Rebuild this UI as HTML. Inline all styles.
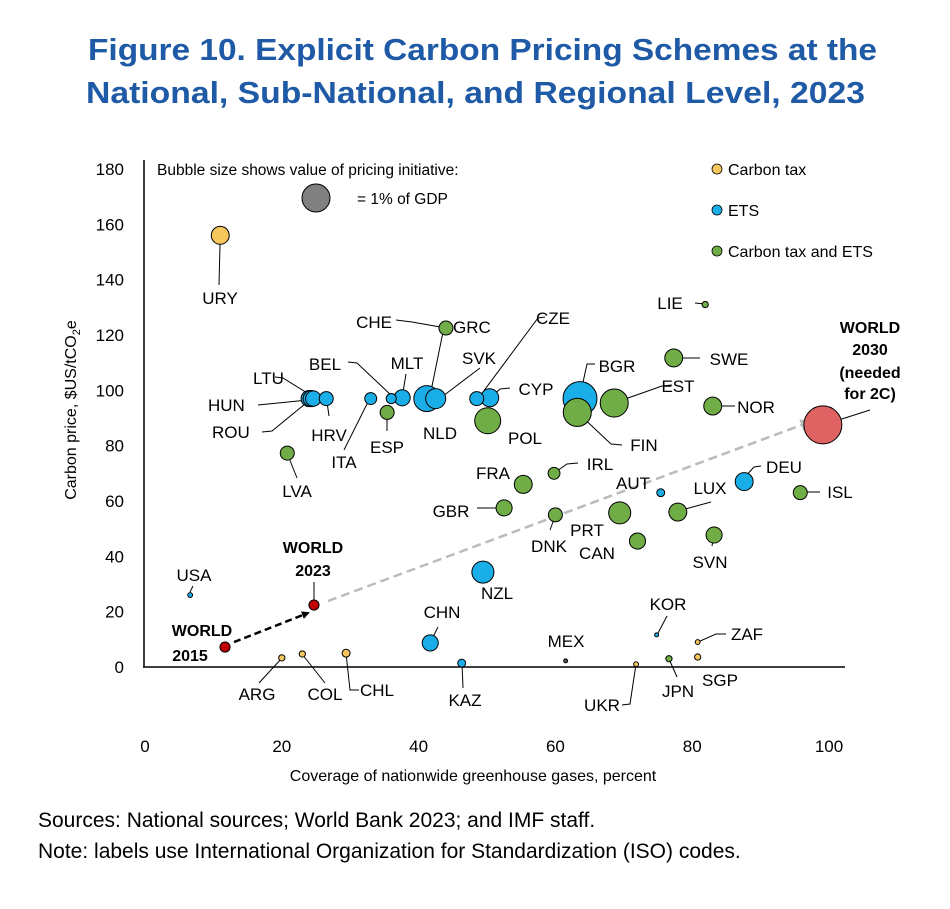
<!DOCTYPE html>
<html><head><meta charset="utf-8"><style>
body{margin:0;background:#fff;width:950px;height:904px;overflow:hidden;font-family:"Liberation Sans",sans-serif}
</style></head><body>
<svg width="950" height="904" font-family="Liberation Sans, sans-serif">
<rect x="0" y="0" width="950" height="904" fill="#fff"/>
<text x="88" y="60" textLength="789" lengthAdjust="spacingAndGlyphs" font-size="31" font-weight="bold" fill="#1f5aa6">Figure 10. Explicit Carbon Pricing Schemes at the</text>
<text x="86" y="103" textLength="779" lengthAdjust="spacingAndGlyphs" font-size="31" font-weight="bold" fill="#1f5aa6">National, Sub-National, and Regional Level, 2023</text>
<g id="axes"></g>
<g id="lines"></g>
<g id="marks"></g>
<g id="labels"></g>
<text transform="translate(76,410) rotate(-90)" text-anchor="middle" font-size="16">Carbon price, $US/tCO<tspan font-size="11" dy="4">2</tspan><tspan dy="-4">e</tspan></text>
<text x="473" y="781" text-anchor="middle" font-size="16">Coverage of nationwide greenhouse gases, percent</text>
<text x="157" y="175" font-size="15.5">Bubble size shows value of pricing initiative:</text>
<circle cx="316" cy="198" r="14" fill="#808080" stroke="#000" stroke-width="1"/>
<text x="357" y="204" font-size="15.5">= 1% of GDP</text>
<g>
<circle cx="717" cy="169" r="5" fill="#f6c75c" stroke="#000" stroke-width="0.8"/>
<text x="728" y="175" font-size="16">Carbon tax</text>
<circle cx="717" cy="210" r="5" fill="#1aaee8" stroke="#000" stroke-width="0.8"/>
<text x="728" y="216" font-size="16">ETS</text>
<circle cx="717" cy="251" r="5" fill="#70ad47" stroke="#000" stroke-width="0.8"/>
<text x="728" y="257" font-size="16">Carbon tax and ETS</text>
</g>
<text x="38" y="827" font-size="21">Sources: National sources; World Bank 2023; and IMF staff.</text>
<text x="38" y="858" font-size="21">Note: labels use International Organization for Standardization (ISO) codes.</text>
</svg>
<script>
const codes=["URY","CHE","LTU","HUN","ROU","HRV","ITA","BEL","MLT","ESP","NLD","SVK","CZE","CYP","POL","BGR","FIN","EST","LIE","SWE","NOR","W2030","FRA","IRL","AUT","DEU","ISL","GBR","DNK","PRT","LUX","CAN","SVN","LVA","NZL","USA","W2023","W2015","CHN","KAZ","ARG","COL","CHL","MEX","UKR","JPN","SGP","ZAF","KOR"];
const coverage=[11,44,24,24.3,24.6,26.5,33,36,37.6,35.4,41.2,42.5,48.5,50.4,50.1,63.6,63.2,68.6,81.9,77.3,83,99.1,55.3,59.8,75.4,87.6,95.8,52.5,60,69.4,77.9,72,83.2,20.8,49.4,6.6,24.7,11.7,41.7,46.3,20,23,29.4,61.5,71.8,76.6,80.8,80.8,74.8];
const price=[156,122.5,97,97,97,97,97,97,97.3,92,97,97,97,97.3,89,97,92,95.4,131,111.7,94.3,87.5,66,70,63,67,63,57.5,55,55.7,56,45.5,47.7,77.3,34.3,26,22.4,7.2,8.7,1.4,3.3,4.7,5,2.2,1,3,3.6,9,11.6];
const gdpValue=[0.41,0.25,0.33,0.33,0.3,0.25,0.18,0.13,0.33,0.25,0.86,0.51,0.25,0.41,0.86,1.47,1.0,1.0,0.05,0.41,0.41,1.84,0.41,0.18,0.08,0.41,0.25,0.33,0.25,0.62,0.41,0.33,0.33,0.25,0.62,0.03,0.13,0.13,0.33,0.08,0.05,0.05,0.08,0.02,0.03,0.05,0.05,0.03,0.02];
const scheme=["T","G","E","E","E","E","E","E","E","G","E","E","E","E","G","E","G","G","G","G","G","W","G","G","E","E","G","G","G","G","G","G","G","G","E","E","D","D","E","E","T","T","T","K","T","G","T","T","E"];
const xTicks=[0,20,40,60,80,100];
const yTicks=[0,20,40,60,80,100,120,140,160,180];
const ns="http://www.w3.org/2000/svg";
const X=v=>145+v*6.84, Y=v=>667-v*2.767, R=v=>14*Math.sqrt(v);
const fills={T:"#f6c75c",E:"#1aaee8",G:"#70ad47",W:"#e06363",D:"#c00000",K:"#555"};
function mk(p,t,a){const e=document.createElementNS(ns,t);for(const k in a)e.setAttribute(k,a[k]);p.appendChild(e);return e;}
const ax=document.getElementById('axes');
let l=mk(ax,'line',{x1:144,y1:160,x2:144,y2:667,stroke:'#000','stroke-width':1.5});


l=mk(ax,'line',{x1:143,y1:667,x2:845,y2:667,stroke:'#000','stroke-width':1.5});


yTicks.forEach(t=>{const e=mk(ax,'text',{x:124,y:Y(t)+6,'text-anchor':'end','font-size':17});e.textContent=t;

});
xTicks.forEach(t=>{const e=mk(ax,'text',{x:X(t),y:752,'text-anchor':'middle','font-size':17});e.textContent=t;

});
const ln=document.getElementById('lines');
const defs=mk(ln,'defs',{});
const m1=mk(defs,'marker',{id:'ab',markerWidth:8,markerHeight:8,refX:6,refY:4,orient:'auto',markerUnits:'userSpaceOnUse'});mk(m1,'path',{d:'M0,0 L8,4 L0,8z',fill:'#000'});
const m2=mk(defs,'marker',{id:'ag',markerWidth:12,markerHeight:12,refX:9,refY:6,orient:'auto',markerUnits:'userSpaceOnUse'});mk(m2,'path',{d:'M0,0 L12,6 L0,12z',fill:'#bbb'});
const i15=codes.indexOf("W2015"),i23=codes.indexOf("W2023"),i30=codes.indexOf("W2030");
l=mk(ln,'line',{x1:X(coverage[i15])+9,y1:Y(price[i15])-5,x2:X(coverage[i23])-6,y2:Y(price[i23])+8,stroke:'#000','stroke-width':2.5,'stroke-dasharray':'7,4','marker-end':'url(#ab)'});


l=mk(ln,'line',{x1:X(coverage[i23])+14,y1:Y(price[i23])-4,x2:X(coverage[i30])-13,y2:Y(price[i30])-3,stroke:'#bbb','stroke-width':2.5,'stroke-dasharray':'9,5','marker-end':'url(#ag)'});


const mg=document.getElementById('marks');
const order=codes.map((c,i)=>i).sort((a,b)=>gdpValue[b]-gdpValue[a]);
order.forEach(i=>{const c=mk(mg,'circle',{cx:X(coverage[i]),cy:Y(price[i]),r:Math.max(2,R(gdpValue[i])),fill:fills[scheme[i]],stroke:'#000','stroke-width':1});

});
// label layout: [text, x, y, anchor, bold, leader points]
const lab=[
["URY",220,304,"m",0,[[219,285],[220,244]]],["CHE",392,328,"e",0,[[396,320],[412,322],[446,328]]],
["GRC",453,333,"s",0,[[452,325],[444,327],[430,396]]],["CZE",536,324,"s",0,[[545,317],[538,318],[480,396]]],
["SVK",462,364,"s",0,[[480,368],[443,396]]],["BEL",325,370,"m",0,[[348,362],[357,363],[392,396]]],
["MLT",407,369,"m",0,[[406,374],[403,392]]],["LTU",253,384,"s",0,[[275,377],[283,378],[312,396]]],
["HUN",208,411,"s",0,[[258,405],[308,400]]],["ROU",212,438,"s",0,[[262,432],[272,431],[305,404]]],
["HRV",329,441,"m",0,[[329,416],[327,402]]],["ITA",344,468,"m",0,[[344,450],[369,400]]],
["ESP",387,453,"m",0,[[387,431],[387,418]]],["NLD",440,439,"m",0,[]],["POL",525,444,"m",0,[]],
["BGR",617,372,"m",0,[[595,364],[587,364],[580,396]]],["EST",678,392,"m",0,[[672,385],[662,386],[614,403]]],
["FIN",644,451,"m",0,[[622,445],[611,444],[578,413]]],["LIE",670,309,"m",0,[[695,303],[705,304]]],
["SWE",729,365,"m",0,[[700,358],[674,358]]],["NOR",756,413,"m",0,[[735,406],[713,406]]],
["CYP",536,395,"m",0,[[510,388],[500,389],[490,398]]],
["FRA",493,479,"m",0,[]],["IRL",600,470,"m",0,[[578,463],[567,464],[554,473]]],["AUT",633,489,"m",0,[]],
["LUX",710,494,"m",0,[[711,502],[678,511]]],["DEU",784,473,"m",0,[[761,466],[754,467],[744,478]]],
["ISL",840,498,"m",0,[[820,492],[800,492]]],["GBR",451,517,"m",0,[[477,508],[504,508]]],
["DNK",549,552,"m",0,[[550,530],[556,514]]],["PRT",587,536,"m",0,[]],["CAN",597,559,"m",0,[]],
["SVN",710,568,"m",0,[[712,546],[714,535]]],["LVA",297,497,"m",0,[[297,478],[287,453]]],
["NZL",497,599,"m",0,[]],["USA",194,581,"m",0,[[190,592],[193,586]]],
["CHN",442,618,"m",0,[[438,627],[430,643]]],["KAZ",465,706,"m",0,[[463,688],[462,663]]],
["ARG",257,700,"m",0,[[259,683],[282,658]]],["COL",325,700,"m",0,[[325,683],[302,654]]],
["CHL",377,696,"m",0,[[359,690],[350,690],[346,653]]],["MEX",566,647,"m",0,[]],
["UKR",602,711,"m",0,[[622,705],[630,704],[636,664]]],["JPN",678,697,"m",0,[[677,677],[669,659]]],
["SGP",720,686,"m",0,[]],["ZAF",747,640,"m",0,[[726,634],[716,634],[698,642]]],
["KOR",668,610,"m",0,[[667,616],[657,635]]],
["WORLD",313,553,"m",1,[[314,582],[314,600]]],["2023",313,576,"m",1,[]],
["WORLD",202,636,"m",1,[]],["2015",190,661,"m",1,[]],
["WORLD",870,333,"m",1,[[870,410],[823,425]]],["2030",870,355,"m",1,[]],["(needed",870,378,"m",1,[]],["for 2C)",870,399,"m",1,[]]
];
const lg=document.getElementById('labels');
lab.forEach(a=>{
 if(a[5].length){const p=mk(ln,'polyline',{points:a[5].map(q=>q.join(',')).join(' '),fill:'none',stroke:'#000','stroke-width':1});
 
 }
 const t=mk(lg,'text',{x:a[1],y:a[2],'text-anchor':a[3]=="m"?"middle":a[3]=="e"?"end":"start",'font-size':a[4]?16:17,'font-weight':a[4]?'bold':'normal'});
 t.textContent=a[0];
 
 
});
</script>
</body></html>
